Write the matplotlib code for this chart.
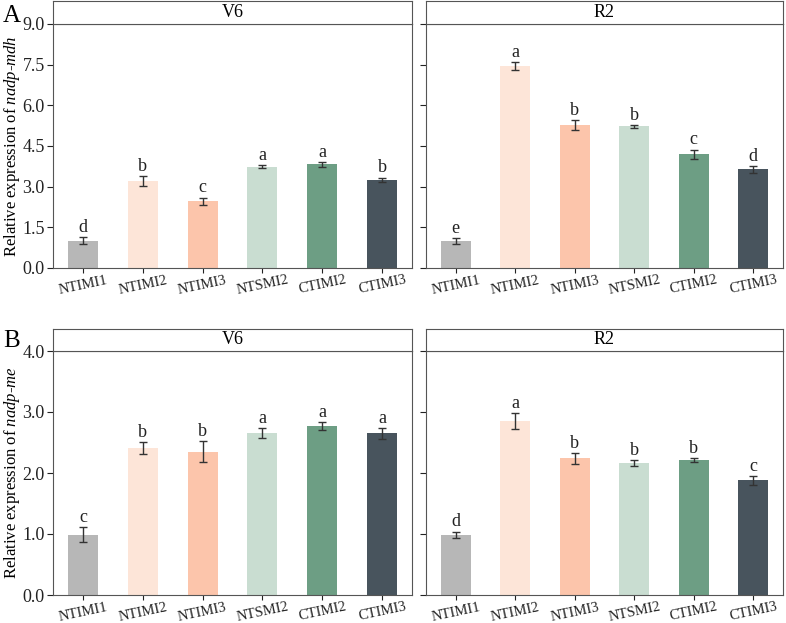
import numpy as np
import matplotlib
matplotlib.use('Agg')
import matplotlib.pyplot as plt

plt.rcParams['font.family'] = 'Liberation Serif'
plt.rcParams['mathtext.fontset'] = 'custom'
plt.rcParams['mathtext.rm'] = 'Liberation Serif'
plt.rcParams['mathtext.it'] = 'Liberation Serif:italic'

# Data
groups = ['NTIMI1', 'NTIMI2', 'NTIMI3', 'NTSMI2', 'CTIMI2', 'CTIMI3']
colors = ['#b7b7b7', '#fde5d8', '#fcc5ab', '#c9ddd1', '#6d9e84', '#48545d']

mdh_v6 = [1.01, 3.21, 2.47, 3.74, 3.82, 3.25]
mdh_v6_err = [0.13, 0.17, 0.13, 0.05, 0.09, 0.08]
mdh_v6_sig = ['d', 'b', 'c', 'a', 'a', 'b']
mdh_r2 = [1.00, 7.44, 5.27, 5.22, 4.19, 3.64]
mdh_r2_err = [0.10, 0.15, 0.18, 0.06, 0.18, 0.13]
mdh_r2_sig = ['e', 'a', 'b', 'b', 'c', 'd']

me_v6 = [0.99, 2.41, 2.35, 2.66, 2.77, 2.65]
me_v6_err = [0.12, 0.10, 0.17, 0.08, 0.06, 0.085]
me_v6_sig = ['c', 'b', 'b', 'a', 'a', 'a']
me_r2 = [0.99, 2.85, 2.24, 2.16, 2.21, 1.88]
me_r2_err = [0.05, 0.13, 0.09, 0.045, 0.035, 0.07]
me_r2_sig = ['d', 'a', 'b', 'b', 'b', 'c']

W, H = 786, 623
fig = plt.figure(figsize=(W / 100, H / 100), dpi=100)
edge = '#555555'


def px_axes(x0, y0, x1, y1):
    return fig.add_axes([x0 / W, 1 - y1 / H, (x1 - x0) / W, (y1 - y0) / H])


def panel(x0, x1, top, bottom, strip_top, vals, errs, sig, ymax, yticks, stage, show_y, ylabel=None):
    ax = px_axes(x0, top, x1, bottom)
    x = np.arange(len(groups))
    ax.bar(x, vals, width=0.5, color=colors, zorder=2)
    ax.errorbar(x, vals, yerr=errs, fmt='none', ecolor='#333333', elinewidth=1,
                capsize=3, capthick=1, zorder=3)
    for xi, v, e, s in zip(x, vals, errs, sig):
        ax.text(xi, v + e + ymax * 0.005, s, ha='center', va='bottom', fontsize=13, color='#222222')
    ax.set_xlim(-0.5, 5.5)
    ax.set_ylim(0, ymax)
    ax.set_yticks(yticks)
    ax.set_xticks(x)
    ax.set_xticklabels(groups, rotation=12, ha='center', fontsize=10.5)
    if show_y:
        ax.set_yticklabels([f'{t:.1f}' for t in yticks], fontsize=13)
    else:
        ax.set_yticklabels([])
    for sp in ax.spines.values():
        sp.set_color(edge)
    ax.tick_params(colors='#222222', length=4, width=0.8)
    ax.tick_params(axis='x', length=3.5, pad=0.5)
    ax.tick_params(axis='y', pad=2)
    if ylabel:
        ax.set_ylabel(ylabel, fontsize=12)
        ax.yaxis.set_label_coords((22 - x0) / (x1 - x0), 0.5)
    st = px_axes(x0, strip_top, x1, top)
    st.set_xticks([])
    st.set_yticks([])
    for sp in st.spines.values():
        sp.set_color(edge)
    st.text(0.5, 0.5, stage, ha='center', va='center', fontsize=13, transform=st.transAxes)
    return ax


tA = np.arange(0, 9.01, 1.5)
tB = np.arange(0, 4.01, 1.0)
panel(53, 412, 24, 268, 1, mdh_v6, mdh_v6_err, mdh_v6_sig, 9.0, tA, 'V6', True,
      r'Relative expression of $\mathit{nadp}$-$\mathit{mdh}$')
panel(426, 783, 24, 268, 1, mdh_r2, mdh_r2_err, mdh_r2_sig, 9.0, tA, 'R2', False)
panel(53, 412, 351, 595, 329, me_v6, me_v6_err, me_v6_sig, 4.0, tB, 'V6', True,
      r'Relative expression of $\mathit{nadp}$-$\mathit{me}$')
panel(426, 783, 351, 595, 329, me_r2, me_r2_err, me_r2_sig, 4.0, tB, 'R2', False)

fig.text(3 / W, 1 - 16 / H, 'A', fontsize=18, va='center', ha='left')
fig.text(3 / W, 1 - 341 / H, 'B', fontsize=18, va='center', ha='left')

fig.savefig('out.png', dpi=100)
